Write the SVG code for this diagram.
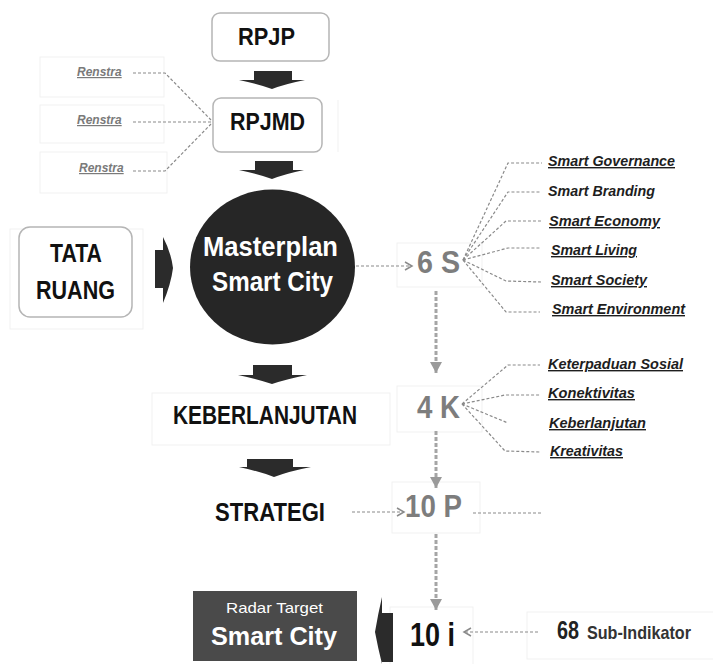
<svg xmlns="http://www.w3.org/2000/svg" width="713" height="664" viewBox="0 0 713 664">
<style>
.b{font-family:"Liberation Sans",Arial,sans-serif;font-weight:bold}
.k{fill:#111}
.g{fill:#7d7d7d}
.w{fill:#fff}
.it{font-family:"Liberation Sans",Arial,sans-serif;font-weight:bold;font-style:italic;font-size:14px;fill:#1e1e1e;text-decoration:underline}
.rn{font-family:"Liberation Sans",Arial,sans-serif;font-weight:bold;font-style:italic;font-size:12px;fill:#7a7a7a;text-decoration:underline}
.faint{fill:none;stroke:#f1f1f1;stroke-width:1}
.box{fill:#fff;stroke:#b5b5b5;stroke-width:1.5}
.blk{fill:#2b2b2b}
.dl{fill:none;stroke:#8a8a8a;stroke-width:1.2;stroke-dasharray:3 2}
.vd{fill:none;stroke:#a5a5a5;stroke-width:3;stroke-dasharray:4 2}
</style>
<defs>
<marker id="open" markerWidth="10" markerHeight="10" refX="8" refY="5" orient="auto" markerUnits="userSpaceOnUse">
<path d="M1,1 L8,5 L1,9" fill="none" stroke="#8a8a8a" stroke-width="1.5"/>
</marker>
<marker id="tri" markerWidth="14" markerHeight="12" refX="11" refY="6" orient="auto" markerUnits="userSpaceOnUse">
<path d="M0,0 L11,6 L0,12 Z" fill="#9a9a9a"/>
</marker>
</defs>
<rect width="713" height="664" fill="#fff"/>

<g id="faint">
<rect class="faint" x="40" y="57" width="124" height="40"/>
<rect class="faint" x="40" y="105" width="124" height="38"/>
<rect class="faint" x="40" y="152" width="127" height="41"/>
<rect class="faint" x="10" y="229" width="133" height="100"/>
<line class="faint" x1="338" y1="100" x2="338" y2="152"/>
<rect class="faint" x="152" y="393" width="238" height="52"/>
<rect class="faint" x="397" y="243" width="85" height="44"/>
<rect class="faint" x="397" y="386" width="85" height="46"/>
<rect class="faint" x="392" y="482" width="88" height="51"/>
<rect class="faint" x="390" y="607" width="83" height="60"/>
<rect class="faint" x="527" y="612" width="190" height="47"/>
</g>

<g id="connectors">
<path class="dl" d="M133,73 L165,73 L211,120"/>
<path class="dl" d="M133,122 L211,122"/>
<path class="dl" d="M133,171 L165,171 L211,124"/>
<line class="dl" x1="356" y1="266" x2="412" y2="266" marker-end="url(#open)"/>
<path class="dl" d="M463,260 L508,163 L542,163"/>
<path class="dl" d="M463,260 L508,192 L540,192"/>
<path class="dl" d="M463,260 L506,221 L541,221"/>
<path class="dl" d="M463,260 L508,248 L540,248"/>
<path class="dl" d="M463,260 L506,281 L541,282"/>
<path class="dl" d="M463,260 L506,312 L540,312"/>
<path class="dl" d="M462,404 L508,365 L540,365"/>
<path class="dl" d="M462,404 L505,395 L540,395"/>
<path class="dl" d="M462,404 L508,423"/>
<path class="dl" d="M462,404 L505,451 L540,452"/>
<line class="vd" x1="436" y1="291" x2="436" y2="373" marker-end="url(#tri)"/>
<line class="vd" x1="436" y1="431" x2="436" y2="488" marker-end="url(#tri)"/>
<line class="vd" x1="436" y1="534" x2="436" y2="610" marker-end="url(#tri)"/>
<line class="dl" x1="352" y1="512" x2="404" y2="512" marker-end="url(#open)"/>
<line class="dl" x1="473" y1="513" x2="542" y2="513"/>
<line class="dl" x1="538" y1="632" x2="464" y2="632" marker-end="url(#open)"/>
<path class="blk" d="M254,71 L292,71 L292,80 L305,80 Q285,84 272,89 Q259,84 239,80 L254,80 Z"/>
<path class="blk" d="M255,161 L293,161 L293,170 L304,170 Q285,174 272,179 Q259,174 239,170 L255,170 Z"/>
<path class="blk" d="M253,365 L292,365 L292,375 L307,375 Q287,379 272,384 Q257,379 238,375 L253,375 Z"/>
<path class="blk" d="M247,459 L293,459 L293,467 L311,467 Q290,471 274,477 Q258,471 239,467 L247,467 Z"/>
<path class="blk" d="M155,250 L163,250 L163,237 Q171,252 173,268 Q171,284 163,303 L163,288 L155,288 Z"/>
<path class="blk" d="M393,613 L393,662 L382,662 L382,664 Q378,648 375,632 Q378,614 382,597 L382,613 Z"/>
</g>

<g id="renstra1"><text class="rn" x="77" y="76">Renstra</text></g>
<g id="renstra2"><text class="rn" x="77" y="124">Renstra</text></g>
<g id="renstra3"><text class="rn" x="79" y="172">Renstra</text></g>

<g id="rpjp">
<rect class="box" x="212" y="13" width="117" height="48" rx="8"/>
<text class="b k" x="238" y="45" font-size="24" textLength="57" lengthAdjust="spacingAndGlyphs">RPJP</text>
</g>
<g id="rpjmd">
<rect class="box" x="213" y="98" width="109" height="54" rx="8"/>
<text class="b k" x="230" y="130" font-size="24" textLength="75" lengthAdjust="spacingAndGlyphs">RPJMD</text>
</g>
<g id="tataruang">
<rect class="box" x="19" y="227" width="113" height="90" rx="11"/>
<text class="b k" x="50" y="262" font-size="25" textLength="52" lengthAdjust="spacingAndGlyphs">TATA</text>
<text class="b k" x="36" y="299" font-size="25" textLength="79" lengthAdjust="spacingAndGlyphs">RUANG</text>
</g>
<g id="masterplan">
<ellipse cx="272.5" cy="267" rx="82.5" ry="77.5" fill="#262626"/>
<text class="b w" x="203" y="256" font-size="28" textLength="135" lengthAdjust="spacingAndGlyphs">Masterplan</text>
<text class="b w" x="212" y="291" font-size="28" textLength="121" lengthAdjust="spacingAndGlyphs">Smart City</text>
</g>
<g id="keberlanjutan">
<text class="b k" x="173" y="424" font-size="25" textLength="184" lengthAdjust="spacingAndGlyphs">KEBERLANJUTAN</text>
</g>
<g id="strategi">
<text class="b k" x="215" y="521" font-size="25" textLength="110" lengthAdjust="spacingAndGlyphs">STRATEGI</text>
</g>
<g id="s6">
<text class="b g" x="417" y="273" font-size="31" textLength="43" lengthAdjust="spacingAndGlyphs">6 S</text>
</g>
<g id="k4">
<text class="b g" x="417" y="418" font-size="31" textLength="43" lengthAdjust="spacingAndGlyphs">4 K</text>
</g>
<g id="p10">
<text class="b g" x="405" y="517" font-size="31" textLength="57" lengthAdjust="spacingAndGlyphs">10 P</text>
</g>
<g id="i10">
<text class="b k" x="410" y="646" font-size="33" textLength="45" lengthAdjust="spacingAndGlyphs">10 i</text>
</g>
<g id="subindikator">
<text class="b" x="557" y="639" font-size="25" fill="#222" textLength="22" lengthAdjust="spacingAndGlyphs">68</text>
<text class="b" x="587" y="639" font-size="19" fill="#333" textLength="104" lengthAdjust="spacingAndGlyphs">Sub-Indikator</text>
</g>
<g id="radar">
<rect x="193" y="591" width="164" height="70" fill="#4a4a4a"/>
<text x="226" y="613" font-family="Liberation Sans, Arial, sans-serif" font-size="15" fill="#fff" textLength="97" lengthAdjust="spacingAndGlyphs">Radar Target</text>
<text class="b w" x="211" y="645" font-size="26" textLength="126" lengthAdjust="spacingAndGlyphs">Smart City</text>
</g>

<g id="smart-items">
<text class="it" x="548" y="166" textLength="127" lengthAdjust="spacingAndGlyphs">Smart Governance</text>
<text class="it" x="548" y="196" textLength="107" lengthAdjust="spacingAndGlyphs" style="text-decoration:none">Smart Branding</text>
<text class="it" x="549" y="226" textLength="111" lengthAdjust="spacingAndGlyphs">Smart Economy</text>
<text class="it" x="551" y="255" textLength="86" lengthAdjust="spacingAndGlyphs">Smart Living</text>
<text class="it" x="551" y="285" textLength="96" lengthAdjust="spacingAndGlyphs">Smart Society</text>
<text class="it" x="552" y="314" textLength="133" lengthAdjust="spacingAndGlyphs">Smart Environment</text>
</g>
<g id="k-items">
<text class="it" x="548" y="369" textLength="135" lengthAdjust="spacingAndGlyphs">Keterpaduan Sosial</text>
<text class="it" x="548" y="398" textLength="87" lengthAdjust="spacingAndGlyphs">Konektivitas</text>
<text class="it" x="549" y="428" textLength="97" lengthAdjust="spacingAndGlyphs">Keberlanjutan</text>
<text class="it" x="550" y="456" textLength="73" lengthAdjust="spacingAndGlyphs">Kreativitas</text>
</g>
</svg>
